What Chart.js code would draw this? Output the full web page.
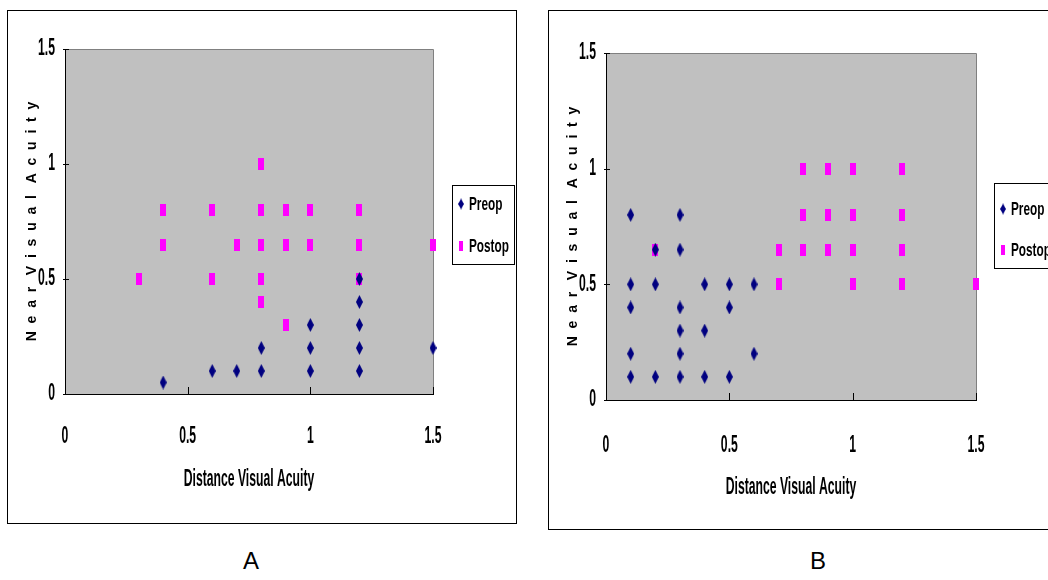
<!DOCTYPE html>
<html>
<head>
<meta charset="utf-8">
<script src="https://cdn.jsdelivr.net/npm/chart.js@4.4.0/dist/chart.umd.min.js"></script>
<style>
  body { margin:0; width:1048px; height:580px; overflow:hidden; background:#fff; font-family:"Liberation Sans", Arial, sans-serif; }
  .panel { position:absolute; border:1px solid #000; background:#fff; }
  #pa { left:7px; top:10px; width:508px; height:512px; }
  #pb { left:548px; top:10px; width:512px; height:518px; }
  .lbl { position:absolute; top:547px; width:40px; text-align:center; font-size:24px; color:#000; }
</style>
</head>
<body>
<div class="panel" id="pa"><canvas id="chartA" width="508" height="512"></canvas></div>
<div class="panel" id="pb"><canvas id="chartB" width="512" height="518"></canvas></div>
<div class="lbl" style="left:231px">A</div>
<div class="lbl" style="left:798px">B</div>
<script>
// data  [distance VA, near VA]
const preopA = [[0.4,0.05],[0.6,0.1],[0.7,0.1],[0.8,0.1],[0.8,0.2],[1,0.1],[1,0.2],[1,0.3],
  [1.2,0.1],[1.2,0.2],[1.2,0.3],[1.2,0.4],[1.2,0.5],[1.5,0.2]];
const postopA = [[0.3,0.5],[0.4,0.8],[0.4,0.65],[0.6,0.8],[0.6,0.5],[0.7,0.65],[0.8,1],[0.8,0.8],
  [0.8,0.65],[0.8,0.5],[0.8,0.4],[0.9,0.8],[0.9,0.65],[0.9,0.3],[1,0.8],[1,0.65],
  [1.2,0.8],[1.2,0.65],[1.2,0.5],[1.5,0.65]];
const preopB = [[0.1,0.8],[0.3,0.8],[0.2,0.65],[0.3,0.65],[0.1,0.5],[0.2,0.5],[0.4,0.5],[0.5,0.5],
  [0.6,0.5],[0.1,0.4],[0.3,0.4],[0.5,0.4],[0.3,0.3],[0.4,0.3],[0.1,0.2],[0.3,0.2],[0.6,0.2],
  [0.1,0.1],[0.2,0.1],[0.3,0.1],[0.4,0.1],[0.5,0.1]];
const postopB = [[0.2,0.65],[0.7,0.65],[0.7,0.5],[0.8,1],[0.8,0.8],[0.8,0.65],[0.9,1],[0.9,0.8],
  [0.9,0.65],[1,1],[1,0.8],[1,0.65],[1,0.5],[1.2,1],[1.2,0.8],[1.2,0.65],[1.2,0.5],[1.5,0.5]];
const seriesNames = ['Preop', 'Postop'];
const axisTicks = [0, 0.5, 1, 1.5];
const xTitle = 'Distance Visual Acuity';
const yTitle = 'N  e  a  r   V  i  s  u  a  l   A  c  u  i  t  y';

const FONT = '"Liberation Sans", Arial, sans-serif';
const SQUEEZE = 0.53;   // the original text is a very narrow bold face

function diamond(w, h) {
  let c = document.createElement('canvas'); c.width = w; c.height = h;
  let g = c.getContext('2d');
  g.fillStyle = '#000080';
  g.beginPath(); g.moveTo(w/2,0); g.lineTo(w,h/2); g.lineTo(w/2,h); g.lineTo(0,h/2); g.closePath(); g.fill();
  return c;
}
function bar(w, h) {
  let c = document.createElement('canvas'); c.width = w; c.height = h;
  let g = c.getContext('2d');
  g.fillStyle = '#ff00ff'; g.fillRect(0,0,w,h);
  return c;
}
const preopMark = diamond(7, 14);
const postopMark = bar(6, 12);

// big text gets drawn horizontally squeezed round its anchor
function narrowText(canvas) {
  const ctx = canvas.getContext('2d');
  const fill = ctx.fillText;
  ctx.fillText = function(text, x, y, maxW) {
    let m = /(\d+(?:\.\d+)?)px/.exec(this.font);
    let s = (m && parseFloat(m[1]) >= 20) ? SQUEEZE : 1;
    if (s === 1) return fill.call(this, text, x, y);
    this.save();
    this.translate(x, y);
    this.scale(s, 1);
    fill.call(this, text, 0, 0);
    this.restore();
  };
  return canvas;
}

const plotBg = {
  id: 'plotBg',
  beforeDraw(chart) {
    const {ctx, chartArea: a} = chart;
    ctx.save();
    ctx.fillStyle = '#c0c0c0';
    ctx.fillRect(a.left, a.top, a.right - a.left, a.bottom - a.top);
    ctx.strokeStyle = '#808080'; ctx.lineWidth = 1;
    ctx.beginPath();
    ctx.moveTo(a.left, a.top + 0.5); ctx.lineTo(a.right + 0.5, a.top + 0.5); ctx.lineTo(a.right + 0.5, a.bottom);
    ctx.stroke();
    ctx.restore();
  },
  beforeDatasetsDraw(chart) {
    // small inward tick marks
    const {ctx, chartArea: a, scales} = chart;
    ctx.save();
    ctx.strokeStyle = '#000'; ctx.lineWidth = 1;
    ctx.beginPath();
    scales.x.ticks.forEach(t => {
      let px = Math.round(scales.x.getPixelForValue(t.value)) + 0.5;
      ctx.moveTo(px, a.bottom); ctx.lineTo(px, a.bottom - 7);
    });
    scales.y.ticks.forEach(t => {
      let py = Math.round(scales.y.getPixelForValue(t.value)) + 0.5;
      ctx.moveTo(a.left - 2, py); ctx.lineTo(a.left + 4, py);
    });
    ctx.stroke();
    ctx.restore();
  }
};

const boxLegend = {
  id: 'boxLegend',
  afterDraw(chart, args, o) {
    const ctx = chart.ctx;
    const x = chart.chartArea.right + o.gap, y = o.top;
    ctx.save();
    ctx.fillStyle = '#fff'; ctx.fillRect(x, y, o.width, o.height);
    ctx.strokeStyle = '#000'; ctx.lineWidth = 1;
    ctx.strokeRect(x + 0.5, y + 0.5, o.width, o.height);
    ctx.font = 'bold 19px ' + FONT;
    ctx.textBaseline = 'middle'; ctx.fillStyle = '#000';
    chart.data.datasets.forEach((ds, i) => {
      let cy = y + o.rowTop + i * o.rowGap;
      let m = ds.pointStyle, mw = m.width * 0.8, mh = m.height * 0.8;
      ctx.drawImage(m, x + 9 - mw/2, cy - mh/2, mw, mh);
      ctx.save();
      ctx.translate(x + 17, cy + 1);
      ctx.scale(0.62, 1);
      ctx.fillText(ds.label, 0, 0);
      ctx.restore();
    });
    ctx.restore();
  }
};

function makeChart(id, preop, postop, cfg) {
  const toPts = arr => arr.map(p => ({x: p[0], y: p[1]}));
  const tickFont = {family: FONT, size: 23, weight: 'bold'};
  return new Chart(narrowText(document.getElementById(id)), {
    type: 'scatter',
    data: {
      datasets: [
        {label: seriesNames[0], data: toPts(preop), pointStyle: preopMark, clip: false},
        {label: seriesNames[1], data: toPts(postop), pointStyle: postopMark, clip: false}
      ]
    },
    options: {
      responsive: false,
      animation: false,
      layout: {padding: {top: cfg.top, right: cfg.right, left: 0, bottom: 0}},
      plugins: {
        legend: {display: false},
        tooltip: {enabled: false},
        boxLegend: cfg.legend
      },
      scales: {
        x: {
          type: 'linear', min: 0, max: 1.5,
          afterBuildTicks: s => { s.ticks = axisTicks.map(v => ({value: v})); },
          afterFit: s => { s.height = cfg.xHeight; },
          grid: {display: false, drawTicks: false},
          border: {color: '#000', width: 1},
          ticks: {color: '#000', font: tickFont, padding: cfg.xPad, maxRotation: 0, autoSkip: false,
                  callback: v => String(v)},
          title: {display: true, text: xTitle, color: '#000', font: {family: FONT, size: 23, weight: 'bold'},
                  padding: {top: 0, bottom: cfg.xTitlePad}}
        },
        y: {
          type: 'linear', min: 0, max: 1.5,
          afterBuildTicks: s => { s.ticks = axisTicks.map(v => ({value: v})); },
          afterFit: s => { s.width = cfg.yWidth; },
          grid: {display: false, drawTicks: false},
          border: {color: '#000', width: 1},
          ticks: {color: '#000', font: tickFont, padding: 10, autoSkip: false, callback: v => String(v)},
          title: {display: true, text: yTitle, color: '#000', font: {family: FONT, size: 14, weight: 'bold'},
                  padding: {top: 16, bottom: 0}}
        }
      }
    },
    plugins: [plotBg, boxLegend]
  });
}

makeChart('chartA', preopA, postopA, {
  top: 38, right: 83, yWidth: 57, xHeight: 129, xPad: 29, xTitlePad: 30,
  legend: {gap: 19, top: 174, width: 62, height: 79, rowTop: 19, rowGap: 42}
});
makeChart('chartB', preopB, postopB, {
  top: 42, right: 85, yWidth: 57, xHeight: 129, xPad: 32, xTitlePad: 28,
  legend: {gap: 18, top: 172, width: 66, height: 85, rowTop: 26, rowGap: 41}
});
</script>
</body>
</html>
